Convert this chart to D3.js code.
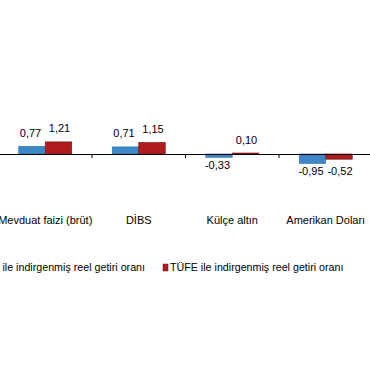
<!DOCTYPE html>
<html>
<head>
<meta charset="utf-8">
<script src="https://cdn.jsdelivr.net/npm/d3@7"></script>
<style>
body { margin: 0; background: #fff; }
text { font-family: "Liberation Sans", Arial, sans-serif; fill: #000; }
</style>
</head>
<body>
<script>
var categories = ["Mevduat faizi (brüt)", "DİBS", "Külçe altın", "Amerikan Doları"];
var seriesNames = ["ÜFE ile indirgenmiş reel getiri oranı", "TÜFE ile indirgenmiş reel getiri oranı"];
var ufeValues = [0.77, 0.71, -0.33, -0.95];
var tufeValues = [1.21, 1.15, 0.10, -0.52];
var colors = ["#3b87c8", "#b01c1e"];
var strokes = ["#2e6fa8", "#6e1214"];

var svg = d3.select("body").append("svg")
    .attr("width", 370)
    .attr("height", 380);

var x = d3.scaleBand()
    .domain(categories)
    .range([-1.5, 372.5]);

var x1 = d3.scaleBand()
    .domain([0, 1])
    .range([0, 53]);

// baseline at 154, about 10px per unit
var y = d3.scaleLinear()
    .domain([-2.5, 2])
    .range([179, 134]);

var series = [ufeValues, tufeValues];
var labelShift = [-1.5, 1];

var g = svg.append("g");

series.forEach(function(vals, s) {
    g.selectAll(".bar" + s)
        .data(vals)
        .enter().append("rect")
        .attr("x", function(d, i) { return x(categories[i]) + x.bandwidth() / 2 - 26.5 + x1(s); })
        .attr("y", function(d) { return y(Math.max(0, d)); })
        .attr("width", x1.bandwidth())
        .attr("height", function(d) { return Math.abs(y(d) - y(0)); })
        .attr("fill", colors[s])
        .attr("stroke", strokes[s])
        .attr("stroke-width", 0.6);

    g.selectAll(".lab" + s)
        .data(vals)
        .enter().append("text")
        .attr("x", function(d, i) { return x(categories[i]) + x.bandwidth() / 2 - 26.5 + x1(s) + x1.bandwidth() / 2 + labelShift[s]; })
        .attr("y", function(d, i) {
            if (d >= 0) return y(d) - 9.5;
            var low = Math.min(ufeValues[i], tufeValues[i]);
            return y(low) + 11.5;
        })
        .attr("text-anchor", "middle")
        .attr("font-size", 11)
        .text(function(d) { return d3.format(".2f")(d).replace(".", ",").replace("−", "-"); });
});

// axis along zero
var axis = d3.axisBottom(x)
    .tickSize(0)
    .tickFormat("");
var ax = svg.append("g")
    .attr("transform", "translate(0," + y(0) + ")")
    .call(axis);
ax.select(".domain").attr("stroke", "#000").attr("stroke-width", 1);

// tick marks at band boundaries
ax.selectAll(".sep")
    .data(categories.slice(1))
    .enter().append("line")
    .attr("x1", function(d) { return x(d); })
    .attr("x2", function(d) { return x(d); })
    .attr("y1", 0)
    .attr("y2", 4)
    .attr("stroke", "#000");

svg.selectAll(".cat")
    .data(categories)
    .enter().append("text")
    .attr("x", function(d) { return x(d) + x.bandwidth() / 2; })
    .attr("y", 224)
    .attr("text-anchor", "middle")
    .attr("font-size", 11)
    .text(function(d) { return d; });

// legend
var legend = svg.append("g");
legend.append("rect")
    .attr("x", -14).attr("y", 264).attr("width", 5).attr("height", 7)
    .attr("fill", colors[0]);
legend.append("text")
    .attr("x", 145).attr("y", 271)
    .attr("text-anchor", "end")
    .attr("font-size", 10.7)
    .text(seriesNames[0]);
legend.append("rect")
    .attr("x", 163).attr("y", 264).attr("width", 5).attr("height", 7)
    .attr("fill", colors[1]).attr("stroke", strokes[1]).attr("stroke-width", 0.5);
legend.append("text")
    .attr("x", 170).attr("y", 271)
    .attr("font-size", 10.7)
    .text(seriesNames[1]);
</script>
</body>
</html>
